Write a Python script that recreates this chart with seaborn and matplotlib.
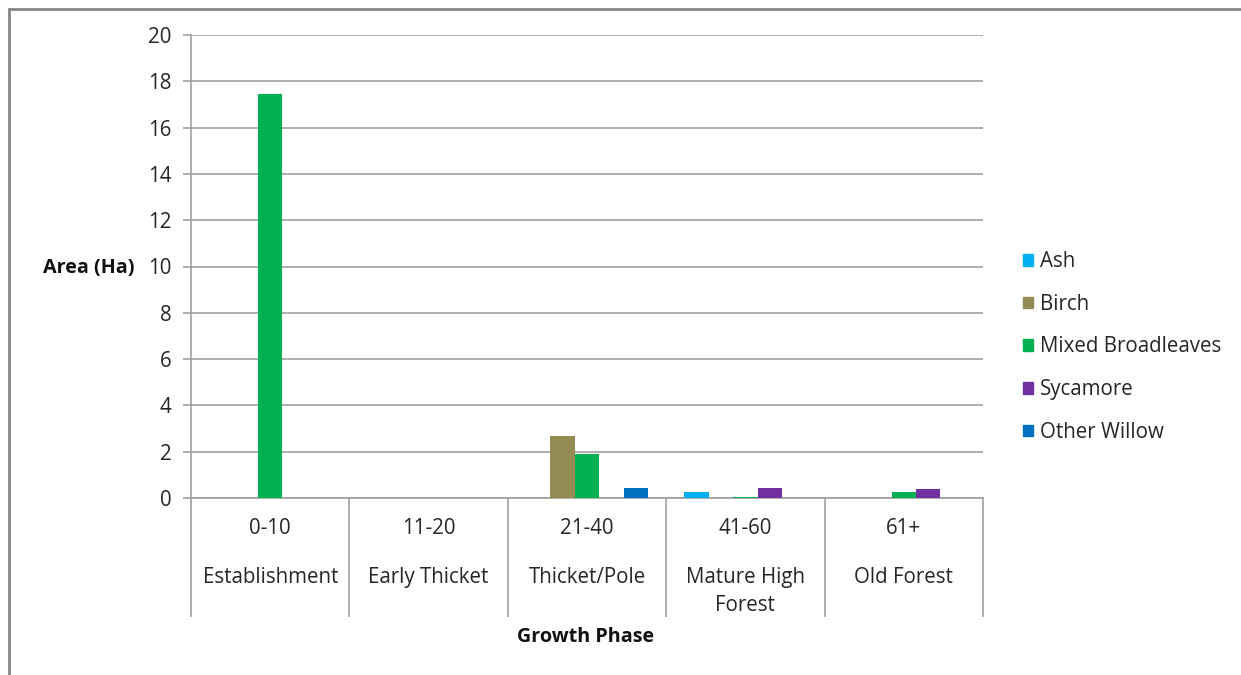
import matplotlib
matplotlib.use("Agg")
import matplotlib.pyplot as plt
import matplotlib.patches as mpatches
import matplotlib.transforms as mtransforms
import seaborn as sns
import pandas as pd

# Age ranges and growth phases along the x axis
age_ranges = ["0-10", "11-20", "21-40", "41-60", "61+"]
phases = ["Establishment", "Early Thicket", "Thicket/Pole", "Mature High\nForest", "Old Forest"]

# Area (ha) of each species per growth phase
species = ["Ash", "Birch", "Mixed Broadleaves", "Sycamore", "Other Willow"]
ash = [0, 0, 0, 0.26, 0]
birch = [0, 0, 2.68, 0, 0]
mixed_broadleaves = [17.45, 0, 1.88, 0.06, 0.26]
sycamore = [0, 0, 0, 0.45, 0.37]
other_willow = [0, 0, 0.45, 0, 0]

colors = ["#00B0F0", "#948A54", "#00B050", "#7030A0", "#0070C0"]

series = [ash, birch, mixed_broadleaves, sycamore, other_willow]
rows = []
for name, vals in zip(species, series):
    for rng, v in zip(age_ranges, vals):
        rows.append({"Age": rng, "Species": name, "Area": v})
df = pd.DataFrame(rows)

sns.set_theme(style="white")
plt.rcParams["font.family"] = ["Open Sans", "DejaVu Sans"]

W, H = 1241, 675
TXT = "#262626"
FS = 14.8
fig = plt.figure(figsize=(W / 100, H / 100), dpi=100)
ax = fig.add_axes([191 / W, 1 - 498 / H, (983 - 191) / W, (498 - 35) / H])

sns.barplot(data=df, x="Age", y="Area", hue="Species", order=age_ranges,
            hue_order=species, palette=colors, width=5 / 6.5, dodge=True,
            saturation=1, errorbar=None, ax=ax, legend=False, zorder=3,
            linewidth=0)

grid_c = "#A0A0A0"
ax.set_ylim(0, 20)
ax.set_xlim(-0.5, len(age_ranges) - 0.5)
ax.set_yticks(range(0, 21, 2))
ax.yaxis.grid(True, color=grid_c, linewidth=1.2, zorder=0)
ax.tick_params(axis="y", which="major", length=6, width=1.2, color=grid_c,
               labelsize=FS, labelcolor=TXT, pad=8, left=True)
for side in ["top", "right"]:
    ax.spines[side].set_visible(False)
for side in ["left", "bottom"]:
    ax.spines[side].set_color(grid_c)
    ax.spines[side].set_linewidth(1.2)

# Category separators below the axis
ax.set_xticks([])
ax.set_xticks([i - 0.5 for i in range(len(age_ranges) + 1)], minor=True)
ax.tick_params(axis="x", which="minor", length=86, width=1.2, color=grid_c,
               bottom=True, direction="out")
ax.tick_params(axis="x", which="major", length=0)

ax.set_xlabel("")
ax.set_ylabel("")

trans = mtransforms.blended_transform_factory(ax.transData, fig.transFigure)
for i, (rng, ph) in enumerate(zip(age_ranges, phases)):
    ax.text(i, 1 - 528 / H, rng, transform=trans, ha="center", va="center",
            fontsize=FS, color=TXT)
    ax.text(i, 1 - 567 / H, ph, transform=trans, ha="center", va="top",
            fontsize=FS, color=TXT, linespacing=1.42)

fig.text(586 / W, 1 - 637 / H, "Growth Phase", ha="center", va="center",
         fontsize=14.2, fontweight="bold", color="#111111")
fig.text(89 / W, 1 - 268 / H, "Area (Ha)", ha="center", va="center",
         fontsize=14.2, fontweight="bold", color="#111111")

handles = [mpatches.Patch(color=c, label=s) for s, c in zip(species, colors)]
fig.legend(handles=handles, loc="center left",
           bbox_to_anchor=(1004 / W, 1 - 347 / H), frameon=False,
           fontsize=FS, handlelength=0.5, handleheight=0.5,
           handletextpad=0.35, labelspacing=1.05, labelcolor=TXT)

# Outer chart frame
fig.patches.append(mpatches.Rectangle((9 / W, -0.1), 1.2, 1 - 9 / H + 0.1,
                                      transform=fig.transFigure, fill=False,
                                      edgecolor="#868686", linewidth=2))

fig.savefig("out.png", dpi=100)
